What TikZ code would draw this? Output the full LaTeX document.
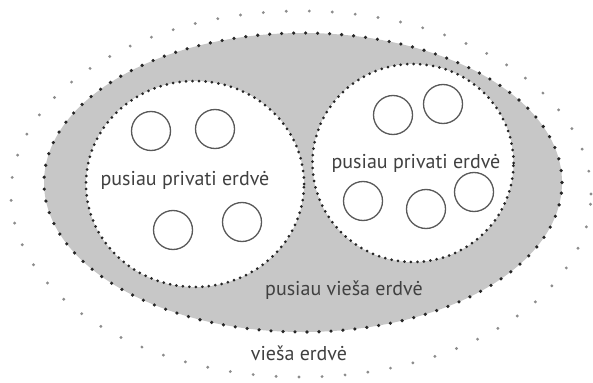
\documentclass[tikz,border=0pt]{standalone}
\usepackage{fontspec}
\setmainfont{PT Sans}
\usetikzlibrary{shapes.geometric}
\tikzset{
  zone/.style={ellipse, inner sep=0pt, outer sep=0pt, line cap=round},
  graydots/.style={zone, draw=black!85, line width=3.6pt, dash pattern=on 0pt off 12pt},
  innerdots/.style={zone, draw=black!85, line width=3pt, dash pattern=on 0pt off 6.5pt},
  outerdots/.style={zone, draw=black!45, line width=3.2pt, dash pattern=on 0pt off 23pt},
  ring/.style={circle, draw=black!65, line width=1.3pt, minimum size=39pt, inner sep=0pt},
  lbl/.style={text=black!75, font=\fontsize{20}{24}\selectfont, inner sep=0pt}
}
\begin{document}
\begin{tikzpicture}[x=1pt, y=-1pt]
\useasboundingbox (0,0) rectangle (593,382);
\node[outerdots, minimum width=580pt, minimum height=366pt] (outer) at (301,194) {};
\node[graydots, fill=black!22, minimum width=518pt, minimum height=299pt] (semipub) at (303,182.5) {};
\node[innerdots, fill=white, minimum width=218pt, minimum height=206pt] (leftpriv) at (195,184) {};
\node[innerdots, fill=white, minimum width=201pt, minimum height=198pt] (rightpriv) at (413,163) {};
\node[ring] (l1) at (151,131) {};
\node[ring] (l2) at (215,129) {};
\node[ring] (l3) at (173,230) {};
\node[ring] (l4) at (242,222) {};
\node[ring] (r1) at (393,115) {};
\node[ring] (r2) at (443,104) {};
\node[ring] (r3) at (363,201) {};
\node[ring] (r4) at (426,209) {};
\node[ring] (r5) at (474,192) {};
\node[lbl] (tl) at (185,180) {pusiau privati erdvė};
\node[lbl] (tr) at (416,163) {pusiau privati erdvė};
\node[lbl] (tsp) at (344,290) {pusiau vieša erdvė};
\node[lbl] (tp) at (299,353) {vieša erdvė};
\end{tikzpicture}
\end{document}
